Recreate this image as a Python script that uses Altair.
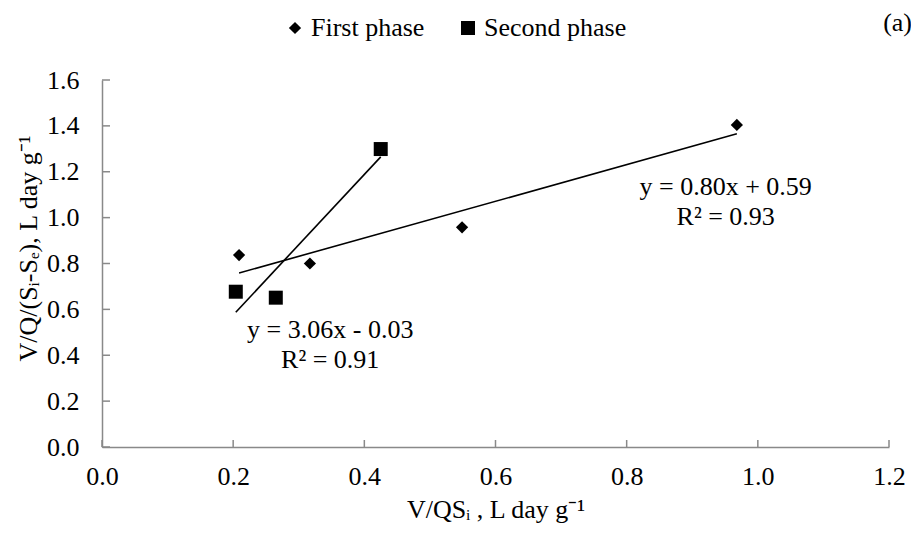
import altair as alt
import pandas as pd

# ---- data ----
series = ["First phase", "Second phase"]
phase1_x = [0.209, 0.317, 0.549, 0.968]
phase1_y = [0.837, 0.800, 0.958, 1.404]
phase2_x = [0.204, 0.265, 0.425]
phase2_y = [0.677, 0.651, 1.299]

x_ticks = [0.0, 0.2, 0.4, 0.6, 0.8, 1.0, 1.2]
y_ticks = [0.0, 0.2, 0.4, 0.6, 0.8, 1.0, 1.2, 1.4, 1.6]

eq_lines = ["y = 0.80x + 0.59", "R² = 0.93", "y = 3.06x - 0.03", "R² = 0.91"]
eq_x = [0.951, 0.951, 0.348, 0.348]
eq_y = [1.099, 0.968, 0.475, 0.344]
panel_label = "(a)"

FONT = "Liberation Serif"
FS = 26
AXIS_GREY = "#898989"
W, H = 787, 367

pts = pd.DataFrame({
    "x": phase1_x + phase2_x,
    "y": phase1_y + phase2_y,
    "phase": [series[0]] * len(phase1_x) + [series[1]] * len(phase2_x),
})
xt = pd.DataFrame({"v": x_ticks})
yt = pd.DataFrame({"v": y_ticks})
eq = pd.DataFrame({"x": eq_x, "y": eq_y, "t": eq_lines})
tag = pd.DataFrame({"t": [panel_label]})

xscale = alt.Scale(domain=[0, 1.2], nice=False, zero=False)
yscale = alt.Scale(domain=[0, 1.6], nice=False, zero=False)

xaxis = alt.Axis(values=x_ticks, format=".1f", title="V/QSᵢ , L day g⁻¹",
                 labelPadding=16, titlePadding=7, labelFlush=False)
yaxis = alt.Axis(values=y_ticks, format=".1f", title="V/Q/(Sᵢ-Sₑ), L day g⁻¹",
                 labelPadding=23, titlePadding=5, titleY=168, labelFlush=False)

points = alt.Chart(pts).mark_point(filled=True, color="black", opacity=1).encode(
    x=alt.X("x:Q", scale=xscale, axis=xaxis),
    y=alt.Y("y:Q", scale=yscale, axis=yaxis),
    shape=alt.Shape("phase:N", scale=alt.Scale(domain=series, range=["diamond", "square"]),
                    legend=alt.Legend(title=None)),
    size=alt.Size("phase:N", scale=alt.Scale(domain=series, range=[150, 196]),
                  legend=alt.Legend(title=None)),
)

trend = alt.Chart(pts).transform_regression(
    "x", "y", groupby=["phase"]
).mark_line(color="black", strokeWidth=1.6).encode(
    x=alt.X("x:Q", scale=xscale, axis=xaxis),
    y=alt.Y("y:Q", scale=yscale, axis=yaxis),
    detail="phase:N",
)

xtick_marks = alt.Chart(xt).mark_rule(color=AXIS_GREY, strokeWidth=1.5).encode(
    x=alt.X("v:Q", scale=xscale, axis=xaxis),
    y=alt.value(H),
    y2=alt.value(H - 7),
)
ytick_marks = alt.Chart(yt).mark_rule(color=AXIS_GREY, strokeWidth=1.5).encode(
    y=alt.Y("v:Q", scale=yscale, axis=yaxis),
    x=alt.value(0),
    x2=alt.value(8),
)

labels = alt.Chart(eq).mark_text(font=FONT, fontSize=FS, color="black",
                                 align="center", baseline="alphabetic").encode(
    x=alt.X("x:Q", scale=xscale, axis=xaxis),
    y=alt.Y("y:Q", scale=yscale, axis=yaxis),
    text="t:N",
)

tag_text = alt.Chart(tag).mark_text(font=FONT, fontSize=FS, color="black",
                                    align="right", baseline="alphabetic").encode(
    x=alt.value(W + 23),
    y=alt.value(-49),
    text="t:N",
)

chart = alt.layer(points, trend, xtick_marks, ytick_marks, labels, tag_text).properties(
    width=W,
    height=H,
    autosize=alt.AutoSizeParams(type="none"),
    padding={"left": 94, "top": 72, "right": 22, "bottom": 84},
).configure_view(
    stroke=None
).configure_axis(
    grid=False, ticks=False,
    domainColor=AXIS_GREY, domainWidth=1.5,
    labelFont=FONT, labelFontSize=FS, labelColor="black",
    titleFont=FONT, titleFontSize=FS, titleFontWeight="normal", titleColor="black",
).configure_legend(
    orient="none", legendX=180, legendY=-65, direction="horizontal",
    labelFont=FONT, labelFontSize=FS, labelColor="black",
    labelOffset=3, columnPadding=30, padding=0,
    symbolFillColor="black", symbolStrokeWidth=0,
)

chart.save("out.html", embed_options={"renderer": "svg", "actions": False})
